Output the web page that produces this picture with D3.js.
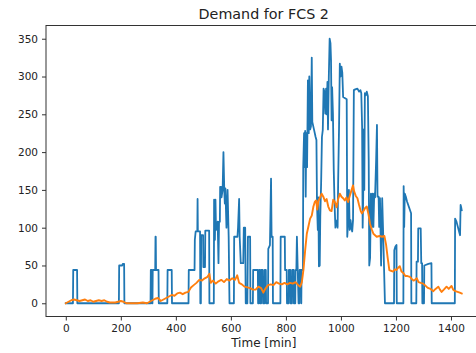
<!DOCTYPE html>
<html>
<head>
<meta charset="utf-8">
<script src="https://cdn.jsdelivr.net/npm/d3@7"></script>
<style>
  html, body { margin: 0; padding: 0; background: #fff; }
  svg { display: block; font-family: "DejaVu Sans", sans-serif; }
</style>
</head>
<body>
<svg id="chart" width="476" height="353"></svg>
<script>
// Per-minute demand at FCS 2, stored as the vertices of the stepped trace [minute, demand]
const demand = [
  [0,0],[26,0],[27,44],[41,44],[42,0],
  [193,0],[194,50],[205,50],[207,52],[212,52],[213,0],
  [308,0],[309,44],[312,44],[313,0],[315,0],[316,44],[325,44],[326,88],[327,88],[328,44],[337,44],[338,0],
  [369,0],[370,44],[385,44],[386,0],
  [446,0],[447,44],[468,44],[469,84],[472,95],[478,95],[479,138],[480,95],[488,95],[489,0],
  [491,0],[492,90],[499,90],[500,48],[506,48],[507,96],[521,96],[522,0],
  [538,0],[539,137],[542,84],[544,137],[546,97],[552,108],[555,53],[557,108],[560,108],[561,154],
  [565,154],[566,140],[570,150],[573,200],[576,150],[578,132],[580,152],[584,100],[588,150],[592,88],[595,0],
  [611,0],[612,88],[624,88],[626,100],[630,138],[632,88],[636,53],[645,53],[647,100],[652,100],[654,0],
  [660,0],[662,88],[670,88],[671,0],[680,0],[681,44],[698,44],[699,0],[702,0],[703,44],[706,44],[707,0],
  [710,0],[711,44],[716,44],[717,0],[722,0],[723,44],[727,44],[728,0],[735,0],[736,72],[742,77],
  [746,165],[748,88],[752,88],[753,0],
  [780,0],[781,88],[796,88],[797,44],[803,44],[804,0],[810,0],[811,44],[816,44],[817,0],[822,0],
  [823,44],[828,44],[829,0],[834,0],[835,44],[838,44],[840,88],[843,44],[846,0],[849,0],[850,44],
  [855,44],[856,0],[857,44],[862,44],[863,180],
  [866,225],[868,180],[870,228],[872,141],[874,225],[877,180],[880,295],[883,225],[885,300],[888,230],
  [891,234],[894,325],[896,240],[902,230],[908,220],[911,216],[913,132],[916,97],[918,140],[920,49],
  [923,50],[925,115],[928,158],[931,220],[934,229],[937,284],[940,280],[943,251],[946,284],[948,250],
  [951,293],[953,230],[956,300],[959,350],[962,344],[964,322],[966,242],[968,286],[971,250],[974,175],
  [977,130],[980,100],[983,106],[986,110],[988,100],[990,163],[993,229],[996,317],[999,300],[1002,313],
  [1005,305],[1008,273],[1021,270],[1023,88],[1026,106],[1029,150],[1032,97],[1035,110],[1038,100],
  [1041,95],[1044,110],[1047,282],[1052,283],[1060,284],[1066,280],[1071,282],[1074,278],[1077,234],
  [1079,100],[1081,141],[1083,230],[1085,150],[1087,278],[1090,275],[1094,280],[1098,274],[1101,190],
  [1103,50],[1106,60],[1109,145],[1112,101],[1115,145],[1118,101],[1121,145],[1124,140],[1128,190],
  [1131,236],[1133,141],[1137,141],[1139,101],[1142,139],[1146,50],[1150,139],[1153,100],[1160,0],
  [1193,0],[1194,70],[1198,75],[1202,77],[1203,0],
  [1227,0],[1228,155],[1230,101],[1232,145],[1236,141],[1240,135],[1255,119],[1256,0],
  [1274,0],[1275,55],[1280,55],[1281,99],[1290,99],[1292,53],[1295,53],[1296,0],
  [1302,0],[1303,50],[1318,52],[1329,53],[1330,0],
  [1414,0],[1415,112],[1420,108],[1433,90],[1435,130],[1437,127],[1439,123]
];

// Rolling mean of the demand [minute, mean]
const rollingMean = [
  [0,0],[10,2],[20,4],[30,5],[40,4],[50,3],[60,4],[70,5],[80,3],[90,4],[100,2],[110,3],[120,4],
  [130,3],[140,4],[150,2],[160,1],[170,1],[180,1],[190,2],[200,3],[210,2],[220,0],[240,0],[260,0],
  [280,1],[295,0],[305,2],[315,4],[325,6],[335,7],[345,3],[355,5],[365,7],[375,9],[385,11],[395,10],
  [405,13],[415,14],[425,12],[435,14],[445,15],[455,21],[465,24],[475,27],[485,31],[495,30],[505,33],
  [515,35],[522,39],[527,27],[535,30],[545,26],[555,29],[565,31],[575,28],[585,32],[595,30],[605,33],
  [615,31],[623,37],[630,27],[640,25],[650,22],[660,21],[670,20],[680,18],[690,18],[700,22],[710,20],
  [718,14],[725,19],[735,24],[745,25],[755,24],[765,28],[775,26],[785,25],[795,27],[805,25],[815,27],
  [825,26],[835,28],[845,24],[852,22],[858,28],[864,45],[870,70],[876,92],[882,102],[888,112],
  [894,116],[900,128],[905,134],[910,136],[914,124],[918,135],[924,140],[930,145],[936,141],[942,135],
  [948,138],[954,128],[960,123],[966,122],[972,137],[978,134],[984,127],[990,138],[996,145],[1002,141],
  [1008,139],[1014,136],[1020,140],[1026,134],[1032,142],[1038,149],[1044,156],[1048,148],[1054,142],
  [1060,139],[1066,130],[1072,122],[1076,119],[1082,122],[1088,126],[1094,128],[1100,118],[1106,105],
  [1112,98],[1118,92],[1124,90],[1130,88],[1140,89],[1150,88],[1158,89],[1164,78],[1170,60],[1176,44],
  [1182,43],[1190,42],[1196,45],[1202,44],[1208,47],[1214,49],[1220,42],[1227,40],[1234,36],[1242,36],
  [1251,35],[1258,32],[1264,30],[1269,31],[1276,33],[1282,28],[1290,27],[1299,26],[1305,24],[1311,22],
  [1318,20],[1326,19],[1336,16],[1344,19],[1354,22],[1360,18],[1366,15],[1374,18],[1384,22],[1392,19],
  [1402,23],[1408,18],[1416,16],[1424,15],[1432,14],[1439,13]
];

const xTicks = [0, 200, 400, 600, 800, 1000, 1200, 1400];
const yTicks = [0, 50, 100, 150, 200, 250, 300, 350];

const titleText = "Demand for FCS 2";
const xLabelText = "Time [min]";

// ---- layout ----
const plot = { left: 46, right: 481.5, top: 25.5, bottom: 316.5 };

const svg = d3.select("#chart");

// axis limits padded by 5% of the data span, as in the usual plotting defaults
const xMin = 0, xMax = 1439;
const yMin = 0, yMax = 350;
const xPad = (xMax - xMin) * 0.05, yPad = (yMax - yMin) * 0.05;

const x = d3.scaleLinear().domain([xMin - xPad, xMax + xPad]).range([plot.left, plot.right]);
const y = d3.scaleLinear().domain([yMin - yPad, yMax + yPad]).range([plot.bottom, plot.top]);

svg.append("defs").append("clipPath").attr("id", "plot-clip")
  .append("rect")
  .attr("x", plot.left).attr("y", plot.top)
  .attr("width", plot.right - plot.left).attr("height", plot.bottom - plot.top);

const line = d3.line().x(d => x(d[0])).y(d => y(d[1]));

const lines = svg.append("g").attr("clip-path", "url(#plot-clip)");
lines.append("path").datum(demand)
  .attr("d", line).attr("fill", "none")
  .attr("stroke", "#1f77b4").attr("stroke-width", 1.8)
  .attr("stroke-linejoin", "round").attr("stroke-linecap", "square");
lines.append("path").datum(rollingMean)
  .attr("d", line).attr("fill", "none")
  .attr("stroke", "#ff7f0e").attr("stroke-width", 1.9)
  .attr("stroke-linejoin", "round").attr("stroke-linecap", "square");

// axes
const xAxis = d3.axisBottom(x).tickValues(xTicks).tickSize(4).tickPadding(4).tickFormat(d3.format("d"));
const yAxis = d3.axisLeft(y).tickValues(yTicks).tickSize(4).tickPadding(4).tickFormat(d3.format("d"));

const gx = svg.append("g").attr("transform", `translate(0,${plot.bottom})`).call(xAxis);
const gy = svg.append("g").attr("transform", `translate(${plot.left},0)`).call(yAxis);
[gx, gy].forEach(g => {
  g.select(".domain").remove();
  g.selectAll(".tick line").attr("stroke", "#333").attr("stroke-width", 1);
  g.selectAll(".tick text").attr("fill", "#222").style("font-size", "10.5px")
    .style("font-family", "'DejaVu Sans', sans-serif");
});

// frame
svg.append("rect")
  .attr("x", plot.left).attr("y", plot.top)
  .attr("width", plot.right - plot.left).attr("height", plot.bottom - plot.top)
  .attr("fill", "none").attr("stroke", "#333").attr("stroke-width", 1);

// title and axis label
const cx = (plot.left + plot.right) / 2;
svg.append("text").attr("x", cx).attr("y", 19)
  .attr("text-anchor", "middle").attr("fill", "#222")
  .style("font-size", "14.3px").text(titleText);
svg.append("text").attr("x", cx).attr("y", 347)
  .attr("text-anchor", "middle").attr("fill", "#222")
  .style("font-size", "12px").text(xLabelText);
</script>
</body>
</html>
